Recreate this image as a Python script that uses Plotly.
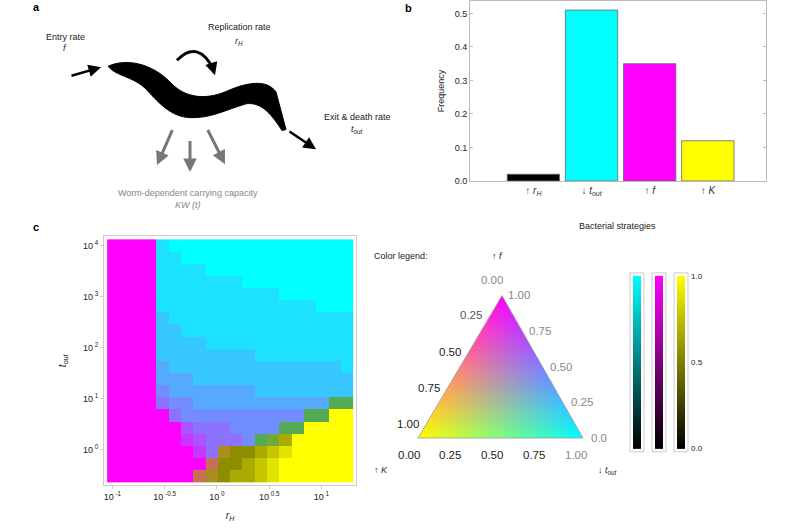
import numpy as np
import base64, zlib, struct
import plotly.graph_objects as go

# ---------------- data ----------------
strategies = ["↑ <i>r<sub>H</sub></i>", "↓ <i>t<sub>out</sub></i>", "↑ <i>f</i>", "↑ <i>K</i>"]
frequency = [0.02, 0.51, 0.35, 0.12]
bar_colors = ["#000000", "#00ffff", "#ff00ff", "#ffff00"]

# heatmap grid: log10(r_H) columns, log10(t_out) rows (top row first)
log_rH_edges = (-1.05, 1.30)
log_tout_edges = (-0.65, 4.13)
# fractions in ninths for magenta (f), yellow (K), black (r_H); cyan (t_out) is the rest
M_rows = [
    "99991000000000000000", "99991100000000000000", "99991111000000000000",
    "99991111111000000000", "99991111111111000000", "99991111111111111000",
    "99992111111111111111", "99992211111111111111", "99992222111111111111",
    "99992222222211111111", "99993222222222222221", "99993332222222222222",
    "99994333333322222222", "99995443333333333300", "99999544444444440000",
    "99999965554444000000", "99999976555400000000", "99999997510000000000",
    "99999999300000000000", "99999993100000000000",
]
Y_rows = ["00000000000000000000"] * 13 + [
    "00000000000000000033", "00000000000000003399", "00000000000000339999",
    "00000000000034699999", "00000000055567899999", "00000000455678999999",
    "00000004556678999999",
]
K_rows = ["00000000000000000000"] * 13 + [
    "00000000000000000033", "00000000000000003300", "00000000000000330000",
    "00000000000033300000", "00000000034432100000", "00000000244321000000",
    "00000002343321000000",
]
x_ticks = [-1, -0.5, 0, 0.5, 1]
x_ticktext = ["10<sup> -1</sup>", "10<sup> -0.5</sup>", "10<sup> 0</sup>", "10<sup> 0.5</sup>", "10<sup> 1</sup>"]
y_ticks = [0, 1, 2, 3, 4]
y_ticktext = ["10<sup> 0</sup>", "10<sup> 1</sup>", "10<sup> 2</sup>", "10<sup> 3</sup>", "10<sup> 4</sup>"]

FONT = "Liberation Sans, Arial, sans-serif"
W, H = 800, 530

def mix(m, y, k):
    c = max(0.0, 1 - m - y - k)
    return tuple(int(min(255, max(0, v))) for v in (255 * (m + y), 255 * (c + y), 255 * (c + m)))

def png_uri(arr):
    arr = np.asarray(arr, dtype=np.uint8)
    h, w, ch = arr.shape
    raw = b"".join(b"\x00" + arr[i].tobytes() for i in range(h))
    def chunk(t, d):
        return struct.pack(">I", len(d)) + t + d + struct.pack(">I", zlib.crc32(t + d) & 0xffffffff)
    ct = 6 if ch == 4 else 2
    png = b"\x89PNG\r\n\x1a\n" + chunk(b"IHDR", struct.pack(">IIBBBBB", w, h, 8, ct, 0, 0, 0)) \
        + chunk(b"IDAT", zlib.compress(raw, 9)) + chunk(b"IEND", b"")
    return "data:image/png;base64," + base64.b64encode(png).decode()

M = np.array([[int(ch) for ch in r] for r in M_rows]) / 9
Y = np.array([[int(ch) for ch in r] for r in Y_rows]) / 9
K = np.array([[int(ch) for ch in r] for r in K_rows]) / 9
nr, nc = M.shape
dx = (log_rH_edges[1] - log_rH_edges[0]) / nc
dy = (log_tout_edges[1] - log_tout_edges[0]) / nr
xc = [log_rH_edges[0] + dx * (j + 0.5) for j in range(nc)]
yc = [log_tout_edges[1] - dy * (i + 0.5) for i in range(nr)]
colors = [mix(M[i, j], Y[i, j], K[i, j]) for i in range(nr) for j in range(nc)]
ncell = len(colors)
zidx = [[i * nc + j for j in range(nc)] for i in range(nr)]
cscale = [[k / (ncell - 1), "rgb(%d,%d,%d)" % colors[k]] for k in range(ncell)]

fig = go.Figure()

# ---- overlay pixel axis ----
fig.add_trace(go.Scatter(x=[0, W], y=[0, H], mode="markers", marker=dict(opacity=0),
                         xaxis="x3", yaxis="y3", hoverinfo="skip"))
fig.update_layout(
    xaxis3=dict(domain=[0, 1], range=[0, W], visible=False, fixedrange=True, anchor="y3"),
    yaxis3=dict(domain=[0, 1], range=[H, 0], visible=False, fixedrange=True, anchor="x3"),
)

# ---- bar chart (panel b) ----
fig.add_trace(go.Bar(x=list(range(len(strategies))), y=frequency, marker_color=bar_colors,
                     marker_line=dict(color="#666", width=0.8), width=0.9, xaxis="x", yaxis="y"))
fig.update_layout(
    xaxis=dict(domain=[470 / W, 766 / W], range=[-1.09, 4.0], tickvals=list(range(4)), ticktext=strategies,
               showgrid=False, zeroline=False, showline=True, linecolor="#bbb", mirror=True, ticks="",
               tickfont=dict(size=10, color="#333"), anchor="y"),
    yaxis=dict(domain=[1 - 182 / H, 1.0], range=[0, 0.537], tickvals=[0, 0.1, 0.2, 0.3, 0.4, 0.5],
               ticktext=["0.0", "0.1", "0.2", "0.3", "0.4", "0.5"], showgrid=False, zeroline=False,
               showline=True, linecolor="#bbb", mirror="ticks", ticks="inside", ticklen=3, tickcolor="#bbb",
               tickfont=dict(size=9, color="#222"), anchor="x",
               title=dict(text="Frequency", font=dict(size=9, color="#222"), standoff=8)),
)

# ---- heatmap (panel c) ----
fig.add_trace(go.Heatmap(x=xc, y=yc, z=zidx, colorscale=cscale, zmin=0, zmax=ncell - 1,
                         showscale=False, xaxis="x2", yaxis="y2", hoverinfo="skip"))
fig.update_layout(
    xaxis2=dict(domain=[104 / W, 356 / W], range=[log_rH_edges[0] - 0.03, log_rH_edges[1] + 0.03],
                tickvals=x_ticks, ticktext=x_ticktext, showgrid=False, zeroline=False, showline=True,
                linecolor="#ccc", mirror=True, ticks="outside", ticklen=3, tickcolor="#ccc",
                tickfont=dict(size=9, color="#222"), anchor="y2",
                title=dict(text="<i>r<sub>H</sub></i>", font=dict(size=10, color="#222"), standoff=10)),
    yaxis2=dict(domain=[1 - 490 / H, 1 - 238 / H], range=[log_tout_edges[0] - 0.06, log_tout_edges[1] + 0.06],
                tickvals=y_ticks, ticktext=y_ticktext, showgrid=False, zeroline=False, showline=True,
                linecolor="#ccc", mirror=True, ticks="outside", ticklen=3, tickcolor="#ccc",
                tickfont=dict(size=9, color="#222"), anchor="x2",
                title=dict(text="<i>t<sub>out</sub></i>", font=dict(size=10, color="#222"), standoff=14)),
)

# ---- ternary colour legend (colours computed from barycentric position) ----
A = (502, 298); B = (418, 442); C = (583, 442)
SS = 2
tw, th = (C[0] - B[0]) * SS, (B[1] - A[1]) * SS
tri = np.zeros((th, tw, 4), dtype=np.uint8)
den = (B[1] - C[1]) * (A[0] - C[0]) + (C[0] - B[0]) * (A[1] - C[1])
for yy in range(th):
    for xx in range(tw):
        px, py = B[0] + (xx + 0.5) / SS, A[1] + (yy + 0.5) / SS
        la = ((B[1] - C[1]) * (px - C[0]) + (C[0] - B[0]) * (py - C[1])) / den
        lb = ((C[1] - A[1]) * (px - C[0]) + (A[0] - C[0]) * (py - C[1])) / den
        lc = 1 - la - lb
        if min(la, lb, lc) >= 0:
            tri[yy, xx] = [min(255, int(255 * (la + lb))), min(255, int(255 * (lc + lb))),
                           min(255, int(255 * (lc + la))), 255]
images = [dict(source=png_uri(tri), xref="x3", yref="y3", x=B[0], y=A[1], sizex=C[0] - B[0],
               sizey=B[1] - A[1], sizing="stretch", layer="below", xanchor="left", yanchor="top")]
for x0, col in [(633, (0, 255, 255)), (655, (255, 0, 255)), (677, (255, 255, 0))]:
    n = 175
    bar = np.array([[[int(col[k] * (1 - i / (n - 1))) for k in range(3)]] * 2 for i in range(n)], dtype=np.uint8)
    images.append(dict(source=png_uri(bar), xref="x3", yref="y3", x=x0, y=278, sizex=8, sizey=n,
                       sizing="stretch", layer="below", xanchor="left", yanchor="top"))

shapes = []
def S(**kw):
    kw.setdefault("xref", "x3"); kw.setdefault("yref", "y3")
    shapes.append(kw)

S(type="path", path="M 108,66 C 125,58 152,62 172,84 C 186,98 205,100 225,92 C 245,83 266,78 276,92 "
                    "L 286,130 L 282,131 C 270,112 260,102 246,104 C 226,110 210,119 190,118 "
                    "C 170,117 158,102 145,88 C 132,76 116,76 108,66 Z",
  fillcolor="black", line=dict(color="black", width=1))
S(type="path", path="M 177,60 Q 198,38 214,70", line=dict(color="black", width=3))
S(type="path", path=f"M {A[0]},{A[1]} L {B[0]},{B[1]} L {C[0]},{C[1]} Z", line=dict(color="#999", width=0.8))
for x0 in (630, 652, 674):
    S(type="rect", x0=x0, x1=x0 + 14, y0=275, y1=456, line=dict(color="#ccc", width=1))

ann = []
def T(x, y, text, size=9, color="#222", **kw):
    ann.append(dict(x=x, y=y, xref="x3", yref="y3", text=text, showarrow=False,
                    font=dict(size=size, color=color, family=FONT), **kw))
def ARW(x0, y0, x1, y1, color="black", width=2.5, size=1.0):
    ann.append(dict(x=x1, y=y1, ax=x0, ay=y0, xref="x3", yref="y3", axref="x3", ayref="y3", text="",
                    showarrow=True, arrowhead=2, arrowsize=size, arrowwidth=width, arrowcolor=color))

ARW(70, 76, 101, 67)
ARW(211, 62, 215, 75, size=1.0)
ARW(288, 131, 316, 150)
ARW(173, 129, 157, 166, color="#777", width=3, size=0.9)
ARW(190, 140, 190, 173, color="#777", width=3, size=0.9)
ARW(207, 129, 225, 165, color="#777", width=3, size=0.9)

T(36, 6, "<b>a</b>", 11, "black")
T(408, 7, "<b>b</b>", 11, "black")
T(36, 229, "<b>c</b>", 11, "black")
T(65, 36, "Entry rate")
T(65, 48, "<i>f</i>")
T(239, 26, "Replication rate")
T(239, 41, "<i>r<sub>H</sub></i>")
T(357, 117, "Exit & death rate")
T(357, 130, "<i>t<sub>out</sub></i>")
T(188, 194, "Worm-dependent carrying capacity", color="#888")
T(188, 206, "<i>KW (t)</i>", color="#888")

T(617, 228, "Bacterial strategies", 9)
T(401, 258, "Color legend:", 9)
T(497, 258, "↑ <i>f</i>", 9)
T(381, 474, "↑ <i>K</i>", 9)
T(607, 475, "↓ <i>t<sub>out</sub></i>", 9)
for (x, y, t, c) in [(492, 282, "0.00", "#888"), (471, 318, "0.25", "#555"), (450, 355, "0.50", "#222"),
                     (429, 391, "0.75", "#222"), (408, 428, "1.00", "#222"),
                     (519, 297, "1.00", "#888"), (540, 334, "0.75", "#888"), (561, 370, "0.50", "#888"),
                     (582, 406, "0.25", "#888"), (599, 442, "0.0", "#888"),
                     (409, 459, "0.00", "#222"), (450, 459, "0.25", "#222"), (492, 459, "0.50", "#222"),
                     (534, 459, "0.75", "#222"), (576, 459, "1.00", "#888")]:
    T(x, y, t, 11.5, c)
T(697, 279, "1.0", 8)
T(697, 366, "0.5", 8)
T(697, 453, "0.0", 8)

fig.update_layout(
    width=W, height=H, margin=dict(l=0, r=0, t=0, b=0),
    paper_bgcolor="white", plot_bgcolor="rgba(0,0,0,0)",
    showlegend=False, shapes=shapes, annotations=ann, images=images,
    font=dict(family=FONT, size=9, color="#222"),
)
fig.write_html("out.html", config={"displayModeBar": False},
               post_script="document.body.style.margin='0';document.body.style.overflow='hidden';")
